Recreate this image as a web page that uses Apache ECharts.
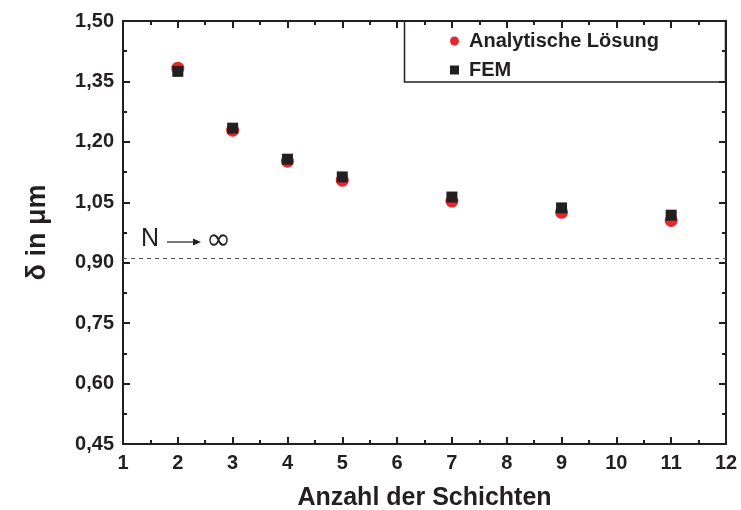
<!DOCTYPE html>
<html>
<head>
<meta charset="utf-8">
<script src="https://cdn.jsdelivr.net/npm/echarts@6/dist/echarts.min.js"></script>
<style>
  html, body { margin: 0; padding: 0; background: #fff; }
  #chart { width: 741px; height: 510px; }
</style>
</head>
<body>
<div id="chart"></div>
<script>
// Schichtanzahl N und Schichtdicke delta (µm)
const schichten = [2, 3, 4, 5, 7, 9, 11];
const analytisch = [1.383, 1.229, 1.152, 1.105, 1.053, 1.025, 1.005];
const fem = [1.375, 1.234, 1.157, 1.113, 1.063, 1.036, 1.018];
const grenzwert = 0.912; // N -> unendlich

const FONT = '"Liberation Sans", Arial, Helvetica, sans-serif';
const INK = '#231f20';
const chart = echarts.init(document.getElementById('chart'));

const axisLine = { show: true, lineStyle: { color: INK, width: 2 } };
const tick = { show: true, inside: true, length: 7, lineStyle: { color: INK, width: 2 } };
const minorTick = { show: true, splitNumber: 2, length: 4, lineStyle: { color: INK, width: 2 } };
const fmtY = v => v.toFixed(2).replace('.', ',');

chart.setOption({
  animation: false,
  backgroundColor: '#fff',
  grid: { left: 123, right: 15, top: 21, bottom: 66, show: false, containLabel: false, outerBoundsMode: 'none' },
  legend: {
    orient: 'vertical',
    left: 445, top: 26,
    itemGap: 9,
    itemWidth: 9, itemHeight: 9,
    textStyle: { fontFamily: FONT, fontWeight: 'bold', fontSize: 20, color: INK, padding: [0, 0, 0, 5] },
    data: [{ name: 'Analytische Lösung', icon: 'circle' }, { name: 'FEM', icon: 'rect' }]
  },
  xAxis: [{
    type: 'value', min: 1, max: 12, interval: 1,
    name: 'Anzahl der Schichten', nameLocation: 'middle', nameGap: 42,
    nameTextStyle: { fontFamily: FONT, fontWeight: 'bold', fontSize: 25, color: INK },
    axisLine, axisTick: tick, minorTick,
    axisLabel: { fontFamily: FONT, fontWeight: 'bold', fontSize: 20, color: INK, margin: 9 },
    splitLine: { show: false }
  }, {
    type: 'value', position: 'top', min: 1, max: 12, interval: 1,
    axisLine, axisTick: tick, minorTick,
    axisLabel: { show: false }, splitLine: { show: false }
  }],
  yAxis: [{
    type: 'value', min: 0.45, max: 1.5, interval: 0.15,
    name: 'δ in μm', nameLocation: 'middle', nameGap: 72, nameRotate: 90,
    nameTextStyle: { fontFamily: FONT, fontWeight: 'bold', fontSize: 27, color: INK },
    axisLine, axisTick: tick, minorTick,
    axisLabel: { fontFamily: FONT, fontWeight: 'bold', fontSize: 20, color: INK, margin: 9, formatter: fmtY },
    splitLine: { show: false }
  }, {
    type: 'value', position: 'right', min: 0.45, max: 1.5, interval: 0.15,
    axisLine, axisTick: tick, minorTick,
    axisLabel: { show: false }, splitLine: { show: false }
  }],
  series: [{
    name: 'Analytische Lösung',
    type: 'scatter',
    symbol: 'circle', symbolSize: 13,
    itemStyle: { color: '#e8262d', opacity: 1 },
    data: schichten.map((n, i) => [n, analytisch[i]]),
    markLine: {
      silent: true, symbol: 'none',
      lineStyle: { type: [4, 4], color: '#555', width: 1 },
      label: { show: false },
      data: [{ yAxis: grenzwert }]
    },
    z: 2
  }, {
    name: 'FEM',
    type: 'scatter',
    symbol: 'rect', symbolSize: 11,
    itemStyle: { color: INK, opacity: 1 },
    data: schichten.map((n, i) => [n, fem[i]]),
    z: 3
  }],
  graphic: [
    { type: 'rect', shape: { x: 404.5, y: 21, width: 321, height: 61 },
      style: { fill: 'none', stroke: INK, lineWidth: 1.5 }, z: 1 },
    { type: 'text', x: 141, y: 227,
      style: { text: 'N', font: '25px ' + FONT, fill: INK } },
    { type: 'line', shape: { x1: 167, y1: 242, x2: 194, y2: 242 },
      style: { stroke: INK, lineWidth: 1.2 } },
    { type: 'polygon', shape: { points: [[193, 238.5], [201, 242], [193, 245.5]] },
      style: { fill: INK } },
    { type: 'text', x: 206, y: 226,
      style: { text: '∞', font: '30px "DejaVu Sans", ' + FONT, fill: INK } }
  ]
});
</script>
</body>
</html>
